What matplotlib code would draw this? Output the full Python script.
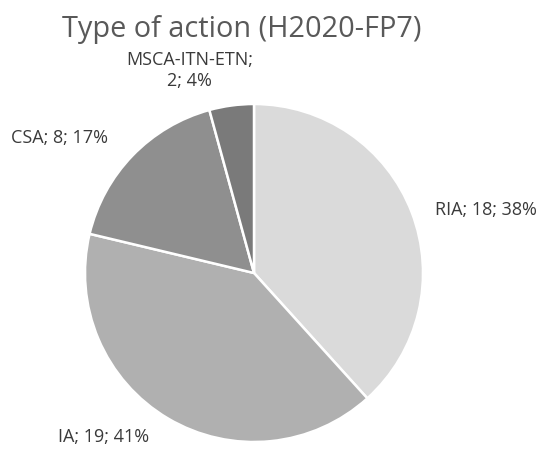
import matplotlib.pyplot as plt

# Data
actions = ['RIA', 'IA', 'CSA', 'MSCA-ITN-ETN']
counts = [18, 19, 8, 2]
percents = [38, 41, 17, 4]
colors = ['#dadada', '#b0b0b0', '#8f8f8f', '#7a7a7a']

plt.rcParams['font.family'] = ['Open Sans', 'DejaVu Sans']

fig = plt.figure(figsize=(5.5, 4.62), dpi=100)
ax = fig.add_axes([85 / 550, 20 / 462, 338 / 550, 338 / 462])

ax.pie(counts, colors=colors, startangle=90, counterclock=False,
       wedgeprops=dict(edgecolor='white', linewidth=1.8))
ax.set_xlim(-1, 1)
ax.set_ylim(-1, 1)
ax.set_aspect('equal')

# data labels: "name; value; pct%"
label_pos = [(1.37, 0.37), (-0.89, -0.97), (-1.15, 0.80), (-0.38, 1.20)]
for name, c, p, (x, y) in zip(actions, counts, percents, label_pos):
    if len(name) > 6:
        txt = f'{name};\n{c}; {p}%'
    else:
        txt = f'{name}; {c}; {p}%'
    ax.text(x, y, txt, ha='center', va='center', fontsize=13,
            color='#3a3a3a', linespacing=1.2, clip_on=False)

fig.text(242 / 550, 1 - 30 / 462, 'Type of action (H2020-FP7)',
         ha='center', va='center', fontsize=20.8, color='#595959')

fig.savefig('out.png', dpi=100)
